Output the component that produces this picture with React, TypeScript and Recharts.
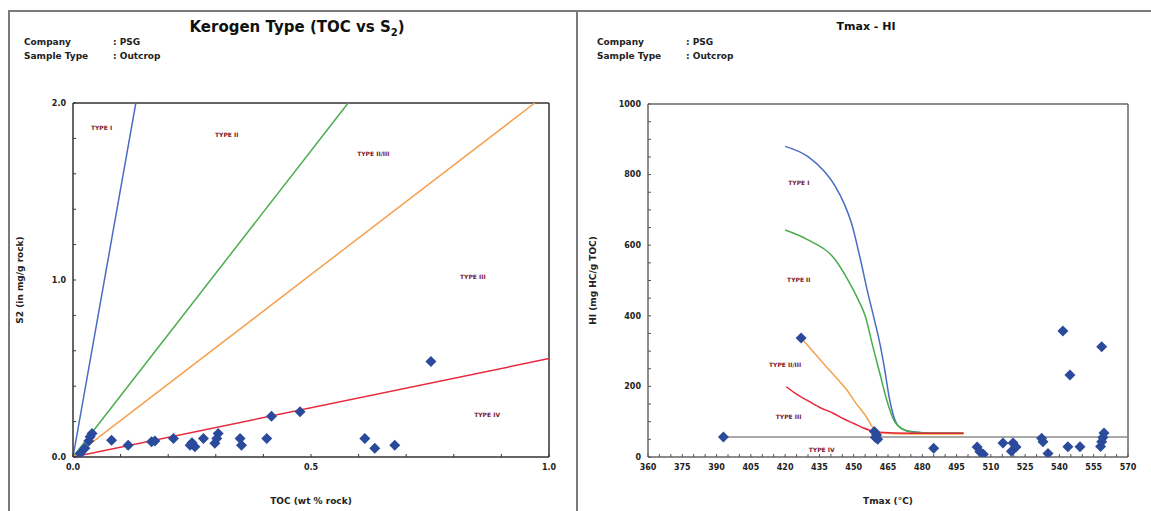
import React from 'react';
import {
  ComposedChart,
  Line,
  Scatter,
  XAxis,
  YAxis,
  ReferenceLine,
  ReferenceDot,
} from 'recharts';

type Pt = { x: number; y: number };
type Tag = { x: number; y: number; text: string };

// ---- Kerogen type (TOC vs S2) ----
const tocS2Samples: Pt[] = [
  { x: 0.015, y: 0.02 }, { x: 0.025, y: 0.05 }, { x: 0.033, y: 0.09 },
  { x: 0.036, y: 0.114 }, { x: 0.04, y: 0.133 }, { x: 0.081, y: 0.095 },
  { x: 0.116, y: 0.067 }, { x: 0.165, y: 0.086 }, { x: 0.172, y: 0.09 },
  { x: 0.211, y: 0.105 }, { x: 0.246, y: 0.067 }, { x: 0.256, y: 0.058 },
  { x: 0.25, y: 0.08 }, { x: 0.274, y: 0.105 }, { x: 0.298, y: 0.077 },
  { x: 0.302, y: 0.105 }, { x: 0.305, y: 0.133 }, { x: 0.351, y: 0.105 },
  { x: 0.354, y: 0.067 }, { x: 0.407, y: 0.105 }, { x: 0.417, y: 0.23 },
  { x: 0.477, y: 0.255 }, { x: 0.613, y: 0.105 }, { x: 0.634, y: 0.049 },
  { x: 0.676, y: 0.067 }, { x: 0.752, y: 0.54 },
];
const s2TypeI: Pt[] = [{ x: 0, y: 0 }, { x: 0.132, y: 2.0 }];
const s2TypeII: Pt[] = [{ x: 0, y: 0 }, { x: 0.578, y: 2.0 }];
const s2TypeIIIII: Pt[] = [{ x: 0, y: 0 }, { x: 0.97, y: 2.0 }];
const s2TypeIII: Pt[] = [{ x: 0, y: 0 }, { x: 1.0, y: 0.556 }];
const s2Tags: Tag[] = [
  { x: 0.06, y: 1.86, text: 'TYPE I' },
  { x: 0.323, y: 1.82, text: 'TYPE II' },
  { x: 0.631, y: 1.71, text: 'TYPE II/III' },
  { x: 0.84, y: 1.02, text: 'TYPE III' },
  { x: 0.87, y: 0.236, text: 'TYPE IV' },
];
const tocTicks = [0, 0.1, 0.2, 0.3, 0.4, 0.5, 0.6, 0.7, 0.8, 0.9, 1.0];
const tocLabelled = [0, 0.5, 1.0];
const s2Ticks = [0, 0.2, 0.4, 0.6, 0.8, 1.0, 1.2, 1.4, 1.6, 1.8, 2.0];
const s2Labelled = [0, 1.0, 2.0];

// ---- Tmax - HI ----
const tmaxHiSamples: Pt[] = [
  { x: 393, y: 57 }, { x: 427, y: 337 },
  { x: 459, y: 72 }, { x: 460, y: 62 }, { x: 459.5, y: 55 }, { x: 460.5, y: 50 },
  { x: 485, y: 25 }, { x: 504, y: 28 }, { x: 505.2, y: 15 }, { x: 506.7, y: 8 },
  { x: 515.3, y: 40 }, { x: 519.7, y: 40 }, { x: 521, y: 28 }, { x: 519, y: 16 },
  { x: 532.2, y: 53 }, { x: 532.8, y: 43 }, { x: 535, y: 10 },
  { x: 541.5, y: 357 }, { x: 544.6, y: 232 }, { x: 543.7, y: 29 }, { x: 549, y: 29 },
  { x: 558.5, y: 312 }, { x: 559.5, y: 68 }, { x: 559, y: 55 },
  { x: 558.5, y: 43 }, { x: 558, y: 30 },
];
const hiTypeI: Pt[] = [
  { x: 420, y: 880 }, { x: 430, y: 851 }, { x: 437, y: 810 }, { x: 442, y: 766 },
  { x: 446, y: 715 }, { x: 449, y: 663 }, { x: 453, y: 558 }, { x: 456, y: 470 },
  { x: 459, y: 390 }, { x: 461.5, y: 320 }, { x: 463.5, y: 250 }, { x: 465.5, y: 170 },
  { x: 467.5, y: 115 }, { x: 470, y: 85 }, { x: 475, y: 72 }, { x: 485, y: 67 },
  { x: 498, y: 67 },
];
const hiTypeII: Pt[] = [
  { x: 420, y: 643 }, { x: 430, y: 615 }, { x: 442, y: 558 }, { x: 447.5, y: 501 },
  { x: 452, y: 445 }, { x: 455, y: 400 }, { x: 458.5, y: 310 }, { x: 461.5, y: 235 },
  { x: 464.5, y: 160 }, { x: 467.5, y: 105 }, { x: 471, y: 80 }, { x: 476, y: 70 },
  { x: 485, y: 68 }, { x: 498, y: 68 },
];
const hiTypeIIIII: Pt[] = [
  { x: 427, y: 337 }, { x: 432, y: 300 }, { x: 438, y: 256 }, { x: 443, y: 220 },
  { x: 447, y: 190 }, { x: 451, y: 152 }, { x: 455.5, y: 114 }, { x: 458.6, y: 81 },
  { x: 462, y: 68 }, { x: 475, y: 65 }, { x: 498, y: 65 },
];
const hiTypeIII: Pt[] = [
  { x: 420.5, y: 199 }, { x: 425, y: 178 }, { x: 429.5, y: 161 }, { x: 435, y: 141 },
  { x: 441, y: 124 }, { x: 446, y: 107 }, { x: 450, y: 95 }, { x: 454, y: 83 },
  { x: 457, y: 76 }, { x: 461, y: 70 }, { x: 475, y: 67 }, { x: 498, y: 67 },
];
const hiTypeIV: Pt[] = [{ x: 392, y: 57 }, { x: 570, y: 57 }];
const hiTags: Tag[] = [
  { x: 426, y: 776, text: 'TYPE I' },
  { x: 426, y: 501, text: 'TYPE II' },
  { x: 420, y: 261, text: 'TYPE II/III' },
  { x: 421.5, y: 114, text: 'TYPE III' },
  { x: 436, y: 20, text: 'TYPE IV' },
];
const tmaxTicks = [
  360, 365, 370, 375, 380, 385, 390, 395, 400, 405, 410, 415, 420, 425, 430,
  435, 440, 445, 450, 455, 460, 465, 470, 475, 480, 485, 490, 495, 500, 505,
  510, 515, 520, 525, 530, 535, 540, 545, 550, 555, 560, 565, 570,
];
const tmaxLabelled = [360, 375, 390, 405, 420, 435, 450, 465, 480, 495, 510, 525, 540, 555, 570];
const hiTicks = [
  0, 50, 100, 150, 200, 250, 300, 350, 400, 450, 500, 550, 600, 650, 700,
  750, 800, 850, 900, 950, 1000,
];
const hiLabelled = [0, 200, 400, 600, 800, 1000];

const FONT = '"DejaVu Sans", Verdana, sans-serif';
const POINT = '#2b4a9c';
const TAG = '#7a1830';

const Diamond = (props: any) => {
  const { cx, cy } = props;
  if (cx == null || cy == null) return <g />;
  return (
    <path
      d={`M${cx},${cy - 5.5}L${cx + 5.5},${cy}L${cx},${cy + 5.5}L${cx - 5.5},${cy}Z`}
      fill={POINT}
    />
  );
};

const pick = (list: number[], digits: number) => (v: number) =>
  list.some((m) => Math.abs(m - v) < 1e-6) ? v.toFixed(digits) : '';

const tickStyle = { fontSize: 8, fontWeight: 'bold' as const, fill: '#222', fontFamily: FONT };

function HeaderText({ left }: { left: number }) {
  const row = { position: 'absolute' as const, fontSize: 9, fontWeight: 'bold' as const, color: '#222' };
  return (
    <>
      <div style={{ ...row, left, top: 37 }}>Company</div>
      <div style={{ ...row, left: left + 89, top: 37 }}>: PSG</div>
      <div style={{ ...row, left, top: 51 }}>Sample Type</div>
      <div style={{ ...row, left: left + 89, top: 51 }}>: Outcrop</div>
    </>
  );
}

export default function App() {
  return (
    <div
      style={{
        position: 'absolute',
        left: 0,
        top: 0,
        width: 1151,
        height: 511,
        background: '#fff',
        overflow: 'hidden',
        fontFamily: FONT,
      }}
    >
      {/* outer frame */}
      <div style={{ position: 'absolute', left: 8, top: 10, width: 1143, height: 2, background: '#7a7a7a' }} />
      <div style={{ position: 'absolute', left: 8, top: 10, width: 2, height: 501, background: '#7a7a7a' }} />
      <div style={{ position: 'absolute', left: 576, top: 10, width: 2, height: 501, background: '#7a7a7a' }} />

      {/* left panel */}
      <div
        style={{
          position: 'absolute', left: 297, top: 18, transform: 'translateX(-50%)',
          fontSize: 15, fontWeight: 'bold', whiteSpace: 'nowrap', color: '#111',
        }}
      >
        Kerogen Type (TOC vs S<sub style={{ fontSize: 10 }}>2</sub>)
      </div>
      <HeaderText left={24} />
      <div style={{ position: 'absolute', left: 0, top: 0 }}>
        <ComposedChart width={572} height={511} margin={{ top: 103, right: 23, bottom: 34, left: 13 }}>
          <XAxis
            type="number"
            dataKey="x"
            domain={[0, 1]}
            allowDataOverflow
            ticks={tocTicks}
            interval={0}
            tickFormatter={pick(tocLabelled, 1)}
            tick={tickStyle}
            tickSize={-3}
            tickMargin={10}
            tickLine={{ stroke: '#333' }}
            axisLine={{ stroke: '#333', strokeWidth: 1.5 }}
            height={20}
            label={{ value: 'TOC (wt % rock)', position: 'bottom', offset: 21, fontSize: 9, fontWeight: 'bold', fill: '#222' }}
          />
          <YAxis
            type="number"
            dataKey="y"
            domain={[0, 2]}
            allowDataOverflow
            ticks={s2Ticks}
            interval={0}
            tickFormatter={pick(s2Labelled, 1)}
            tick={tickStyle}
            tickSize={-3}
            tickMargin={10}
            tickLine={{ stroke: '#333' }}
            axisLine={{ stroke: '#333', strokeWidth: 1.5 }}
            width={60}
            label={{
              value: 'S2 (in mg/g rock)', angle: -90, position: 'insideLeft', offset: 7,
              fontSize: 9, fontWeight: 'bold', fill: '#222', style: { textAnchor: 'middle' },
            }}
          />
          <ReferenceLine y={2} stroke="#333" strokeWidth={1.5} />
          <ReferenceLine x={1} stroke="#333" strokeWidth={1.5} />
          <Line data={s2TypeI} dataKey="y" type="linear" stroke="#4a6cc2" strokeWidth={1.5} dot={false} activeDot={false} isAnimationActive={false} />
          <Line data={s2TypeII} dataKey="y" type="linear" stroke="#46ad4a" strokeWidth={1.5} dot={false} activeDot={false} isAnimationActive={false} />
          <Line data={s2TypeIIIII} dataKey="y" type="linear" stroke="#f3a24e" strokeWidth={1.5} dot={false} activeDot={false} isAnimationActive={false} />
          <Line data={s2TypeIII} dataKey="y" type="linear" stroke="#e8283c" strokeWidth={1.5} dot={false} activeDot={false} isAnimationActive={false} />
          <Scatter data={tocS2Samples} dataKey="y" shape={Diamond} isAnimationActive={false} />
          {s2Tags.map((t) => (
            <ReferenceDot
              key={t.text}
              x={t.x}
              y={t.y}
              r={0}
              fill="none"
              stroke="none"
              label={{ value: t.text, position: 'center', fontSize: 6, fontWeight: 'bold', fill: TAG }}
            />
          ))}
        </ComposedChart>
      </div>

      {/* right panel */}
      <div
        style={{
          position: 'absolute', left: 866, top: 20, transform: 'translateX(-50%)',
          fontSize: 11, fontWeight: 'bold', whiteSpace: 'nowrap', color: '#111',
        }}
      >
        Tmax - HI
      </div>
      <HeaderText left={597} />
      <div style={{ position: 'absolute', left: 578, top: 0 }}>
        <ComposedChart width={573} height={511} margin={{ top: 104, right: 23, bottom: 34, left: 10 }}>
          <XAxis
            type="number"
            dataKey="x"
            domain={[360, 570]}
            allowDataOverflow
            ticks={tmaxTicks}
            interval={0}
            tickFormatter={pick(tmaxLabelled, 0)}
            tick={tickStyle}
            tickSize={-3}
            tickMargin={10}
            tickLine={{ stroke: '#555' }}
            axisLine={{ stroke: '#666', strokeWidth: 1.5 }}
            height={20}
            label={{ value: 'Tmax (°C)', position: 'bottom', offset: 21, fontSize: 9, fontWeight: 'bold', fill: '#222' }}
          />
          <YAxis
            type="number"
            dataKey="y"
            domain={[0, 1000]}
            allowDataOverflow
            ticks={hiTicks}
            interval={0}
            tickFormatter={pick(hiLabelled, 0)}
            tick={tickStyle}
            tickSize={-3}
            tickMargin={10}
            tickLine={{ stroke: '#555' }}
            axisLine={{ stroke: '#666', strokeWidth: 1.5 }}
            width={60}
            label={{
              value: 'HI (mg HC/g TOC)', angle: -90, position: 'insideLeft', offset: 5,
              fontSize: 9, fontWeight: 'bold', fill: '#222', style: { textAnchor: 'middle' },
            }}
          />
          <ReferenceLine y={1000} stroke="#666" strokeWidth={1.5} />
          <ReferenceLine x={570} stroke="#666" strokeWidth={1.5} />
          <Line data={hiTypeIV} dataKey="y" type="linear" stroke="#8c8c8c" strokeWidth={1.5} dot={false} activeDot={false} isAnimationActive={false} />
          <Line data={hiTypeI} dataKey="y" type="monotone" stroke="#4a6cc2" strokeWidth={1.5} dot={false} activeDot={false} isAnimationActive={false} />
          <Line data={hiTypeII} dataKey="y" type="monotone" stroke="#46ad4a" strokeWidth={1.5} dot={false} activeDot={false} isAnimationActive={false} />
          <Line data={hiTypeIIIII} dataKey="y" type="monotone" stroke="#f3a24e" strokeWidth={1.5} dot={false} activeDot={false} isAnimationActive={false} />
          <Line data={hiTypeIII} dataKey="y" type="monotone" stroke="#e8283c" strokeWidth={1.5} dot={false} activeDot={false} isAnimationActive={false} />
          <Scatter data={tmaxHiSamples} dataKey="y" shape={Diamond} isAnimationActive={false} />
          {hiTags.map((t) => (
            <ReferenceDot
              key={t.text}
              x={t.x}
              y={t.y}
              r={0}
              fill="none"
              stroke="none"
              label={{ value: t.text, position: 'center', fontSize: 6, fontWeight: 'bold', fill: TAG }}
            />
          ))}
        </ComposedChart>
      </div>
    </div>
  );
}
